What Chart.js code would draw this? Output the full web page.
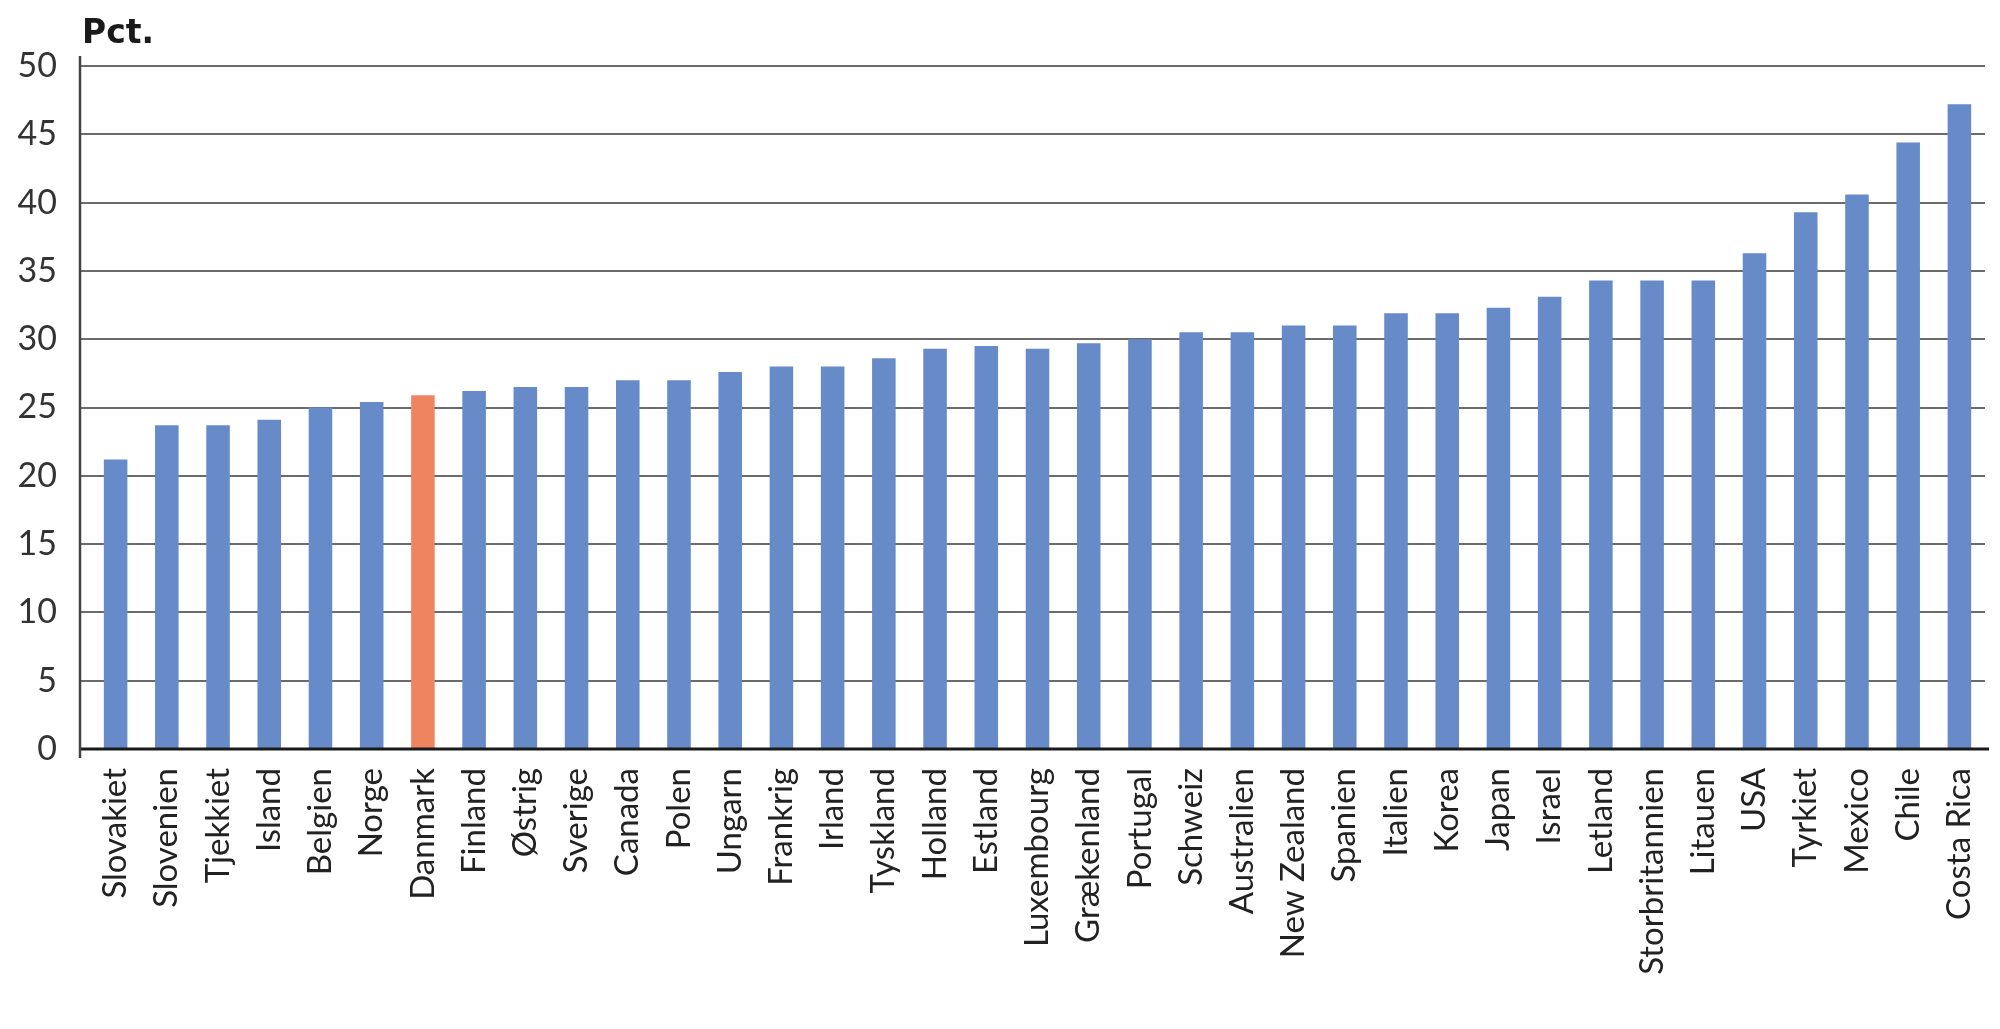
<!DOCTYPE html>
<html>
<head>
<meta charset="utf-8">
<script src="https://cdn.jsdelivr.net/npm/chart.js@4/dist/chart.umd.min.js"></script>
<style>
  body { margin: 0; background: #fff; }
  #wrap { width: 2000px; height: 1029px; }
</style>
</head>
<body>
<div id="wrap"><canvas id="chart"></canvas></div>
<script>
const countries = ['Slovakiet', 'Slovenien', 'Tjekkiet', 'Island', 'Belgien', 'Norge', 'Danmark', 'Finland',
    'Østrig', 'Sverige', 'Canada', 'Polen', 'Ungarn', 'Frankrig', 'Irland', 'Tyskland', 'Holland', 'Estland',
    'Luxembourg', 'Grækenland', 'Portugal', 'Schweiz', 'Australien', 'New Zealand', 'Spanien', 'Italien',
    'Korea', 'Japan', 'Israel', 'Letland', 'Storbritannien', 'Litauen', 'USA', 'Tyrkiet', 'Mexico', 'Chile',
    'Costa Rica']
const shares = [21.2, 23.7, 23.7, 24.1, 25.0, 25.4, 25.9, 26.2, 26.5, 26.5, 27.0, 27.0, 27.6, 28.0, 28.0,
    28.6, 29.3, 29.5, 29.3, 29.7, 30.0, 30.5, 30.5, 31.0, 31.0, 31.9, 31.9, 32.3, 33.1, 34.3, 34.3, 34.3,
    36.3, 39.3, 40.6, 44.4, 47.2]
const highlight = 'Danmark'
const yUnit = 'Pct.'

const blue = '#678bc8'
const orange = '#ef8461'

// axis lines sit a bit left of the first bar, so draw them by hand
const axisLines = {
    id: 'axisLines',
    afterDraw(chart) {
        const { ctx, chartArea } = chart
        const x0 = chartArea.left - 10
        ctx.save()
        ctx.strokeStyle = '#1a1a1a'
        ctx.lineWidth = 3
        ctx.beginPath()
        ctx.moveTo(x0, chartArea.bottom)
        ctx.lineTo(chartArea.right + 4, chartArea.bottom)
        ctx.stroke()
        ctx.strokeStyle = '#444'
        ctx.lineWidth = 2.5
        ctx.beginPath()
        ctx.moveTo(x0, chartArea.top - 10)
        ctx.lineTo(x0, chartArea.bottom + 9)
        ctx.stroke()
        // unit label above the axis
        ctx.fillStyle = '#1a1a1a'
        ctx.font = 'bold 33px "DejaVu Sans"'
        ctx.textBaseline = 'alphabetic'
        ctx.textAlign = 'left'
        ctx.fillText(yUnit, x0 + 2, 43)
        ctx.restore()
    }
}

new Chart(document.getElementById('chart'), {
    type: 'bar',
    data: {
        labels: countries,
        datasets: [{
            data: shares,
            backgroundColor: countries.map(c => c === highlight ? orange : blue),
            borderWidth: 0,
            categoryPercentage: 1,
            barPercentage: 0.46
        }]
    },
    options: {
        responsive: true,
        maintainAspectRatio: false,
        animation: false,
        layout: { padding: { top: 66, left: 18, right: 15, bottom: 30 } },
        plugins: {
            legend: { display: false },
            tooltip: { enabled: false }
        },
        scales: {
            x: {
                grid: { display: false },
                border: { display: false },
                ticks: {
                    minRotation: 90,
                    maxRotation: 90,
                    autoSkip: false,
                    padding: 11,
                    color: '#222',
                    font: { family: 'Lato', size: 33 }
                },
                afterFit: s => {
                    s.height = 250
                    s.paddingLeft = 0
                    s.paddingRight = 0
                }
            },
            y: {
                min: 0,
                max: 50,
                border: { display: false },
                grid: {
                    color: '#6b6b6b',
                    lineWidth: 2,
                    drawTicks: true,
                    tickLength: 10,
                    tickColor: '#6b6b6b'
                },
                ticks: {
                    stepSize: 5,
                    padding: 23,
                    color: '#333',
                    font: { family: 'Lato', size: 34 }
                },
                afterFit: s => { s.width = 72 }
            }
        }
    },
    plugins: [axisLines]
})
</script>
</body>
</html>
